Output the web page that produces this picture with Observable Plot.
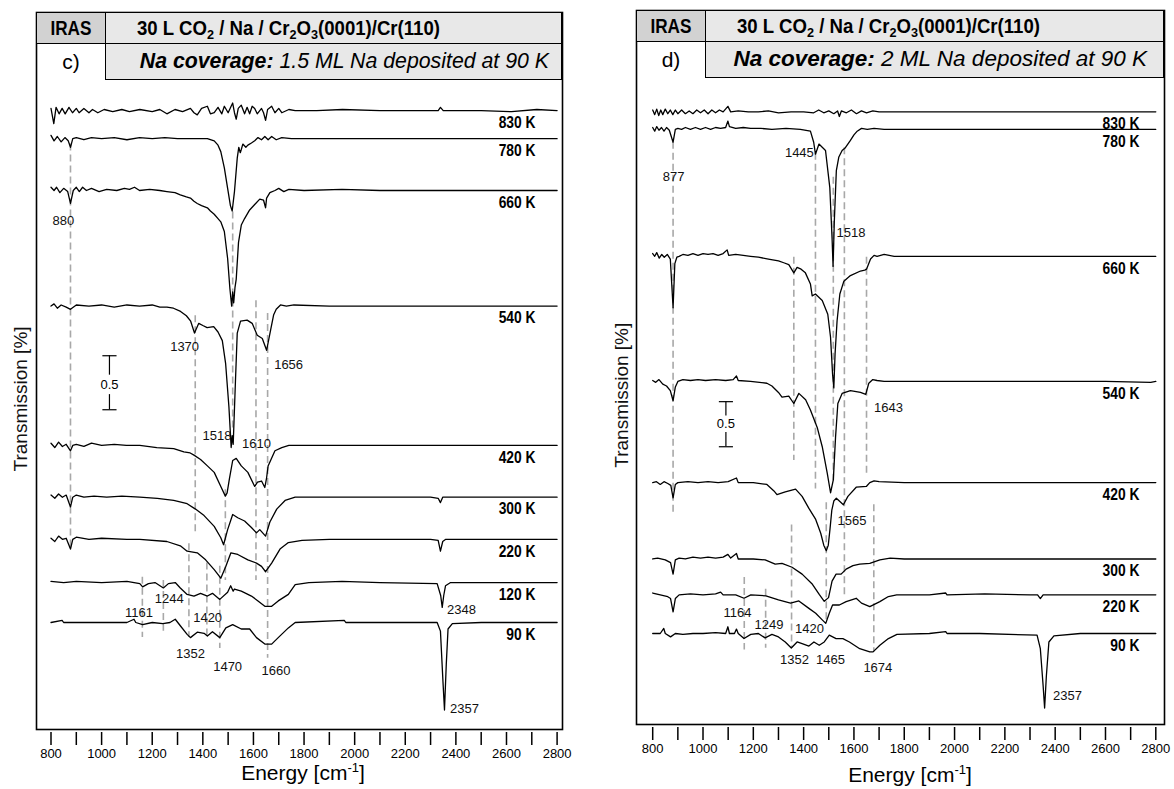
<!DOCTYPE html>
<html><head><meta charset="utf-8">
<script src="https://cdn.jsdelivr.net/npm/d3@7"></script>
<script src="https://cdn.jsdelivr.net/npm/@observablehq/plot@0.6"></script>
<style>
body{margin:0;background:#fff;}
#root{position:relative;width:1174px;height:789px;overflow:hidden;font-family:"Liberation Sans",Arial,sans-serif;}
#root svg{position:absolute;top:0;}
.cell{position:absolute;box-sizing:border-box;border:1.5px solid #000;display:flex;align-items:center;overflow:visible;}
.bold{font-family:"Liberation Sans",Arial,sans-serif;font-weight:bold;}
.fit{display:inline-block;white-space:nowrap;}
.sb{font-size:68%;position:relative;top:0.3em;}
.lbl{position:absolute;white-space:nowrap;color:#000;}
</style></head>
<body><div id="root"></div>
<script>
// ---------------- data: panel c (1.5 ML Na) ----------------
const tempsC = ["830 K","780 K","660 K","540 K","420 K","300 K","220 K","120 K","90 K"];
const offsetsC = [4.74, 4.48, 4.0, 2.93, 1.64, 1.16, 0.77, 0.37, 0];
const c830 = [[800,0.02],[811,-0.12],[820,0.03],[832,-0.03],[844,0.02],[856,-0.03],[871,0.03],[885,-0.02],[900,0.02],[911,-0.02],[930,0.02],[950,-0.02],[964,0.01],[985,-0.02],[1010,0.01],[1044,-0.01],[1080,0.01],[1110,-0.01],[1151,0.01],[1200,-0.01],[1230,0.01],[1258,-0.03],[1290,0.01],[1320,-0.01],[1351,0.02],[1365,-0.02],[1378,-0.04],[1395,0.02],[1418,0.04],[1430,-0.03],[1445,-0.02],[1460,0.03],[1475,-0.03],[1485,0.04],[1500,-0.02],[1510,0.03],[1518,0.07],[1525,-0.02],[1532,-0.08],[1540,0.02],[1552,0.05],[1565,-0.03],[1575,0.03],[1585,-0.03],[1595,0.04],[1605,0.02],[1615,-0.03],[1632,0.02],[1640,-0.02],[1648,-0.09],[1656,0.01],[1672,0.04],[1685,-0.02],[1700,0.02],[1712,-0.02],[1740,0.01],[1765,0],[1850,0],[1952,0.01],[2100,0],[2219,0],[2330,0],[2339,0.03],[2350,0],[2500,0],[2620,-0.01],[2720,0.01],[2800,0]];
const c780 = [[800,0.03],[812,-0.02],[825,0.02],[840,-0.03],[855,0.01],[868,-0.02],[877,-0.08],[886,0],[900,0.01],[930,-0.01],[960,0.01],[1000,0],[1050,0.01],[1100,-0.01],[1150,0.01],[1200,0],[1250,0.01],[1300,0],[1350,0],[1418,0],[1445,-0.02],[1460,-0.06],[1471,-0.12],[1485,-0.27],[1498,-0.46],[1509,-0.62],[1516,-0.67],[1525,-0.49],[1536,-0.18],[1542,-0.08],[1548,-0.13],[1552,-0.10],[1558,-0.05],[1570,-0.08],[1578,-0.06],[1592,-0.04],[1605,-0.02],[1618,0.01],[1632,-0.01],[1645,0.02],[1658,-0.01],[1672,0.02],[1690,-0.01],[1712,0.01],[1750,0],[1900,0],[2100,0],[2300,0],[2500,0],[2800,0]];
const c660 = [[800,0.03],[812,0],[822,0.03],[835,-0.02],[850,0.02],[866,-0.01],[877,-0.12],[888,0],[900,0.03],[912,-0.01],[925,0.03],[940,0],[960,0.02],[990,-0.01],[1020,0.01],[1060,0],[1090,0.02],[1110,0.01],[1130,0.03],[1150,0],[1190,0.01],[1230,0],[1258,-0.01],[1290,-0.02],[1311,-0.04],[1335,-0.06],[1351,-0.07],[1365,-0.10],[1378,-0.12],[1395,-0.14],[1418,-0.16],[1430,-0.19],[1445,-0.22],[1460,-0.26],[1471,-0.29],[1485,-0.38],[1498,-0.63],[1507,-0.91],[1514,-1.07],[1518,-0.94],[1522,-1.04],[1527,-0.90],[1532,-0.82],[1541,-0.48],[1552,-0.32],[1565,-0.26],[1585,-0.18],[1605,-0.13],[1625,-0.08],[1640,-0.09],[1648,-0.16],[1652,-0.07],[1665,-0.02],[1685,0],[1700,0.02],[1720,-0.01],[1740,0.01],[1800,0],[1950,0.01],[2100,0],[2300,0],[2500,0],[2800,0]];
const c540 = [[800,0],[812,0.02],[825,-0.02],[840,0.01],[860,-0.01],[877,-0.03],[900,0.01],[950,0],[1000,0.01],[1050,-0.01],[1100,0.01],[1150,0],[1200,0.01],[1230,-0.01],[1258,-0.01],[1284,-0.02],[1312,-0.05],[1335,-0.09],[1352,-0.14],[1367,-0.25],[1384,-0.16],[1400,-0.18],[1417,-0.20],[1443,-0.19],[1460,-0.24],[1477,-0.32],[1490,-0.53],[1503,-0.93],[1512,-1.31],[1516,-1.20],[1520,-1.28],[1529,-0.69],[1536,-0.25],[1549,-0.14],[1575,-0.13],[1595,-0.16],[1615,-0.27],[1635,-0.30],[1652,-0.41],[1668,-0.22],[1680,-0.08],[1690,-0.03],[1707,0.01],[1730,0],[1760,0.01],[1900,0],[2100,0],[2300,0],[2500,0],[2800,0]];
const c420 = [[800,0.02],[815,-0.02],[830,0.03],[845,-0.01],[860,0.01],[877,-0.05],[886,0],[900,0.01],[930,-0.01],[960,0.02],[1000,0],[1050,0.01],[1098,0],[1151,0],[1218,-0.02],[1285,-0.03],[1325,-0.06],[1350,-0.07],[1365,-0.09],[1391,-0.13],[1418,-0.19],[1445,-0.25],[1471,-0.38],[1489,-0.47],[1496,-0.44],[1505,-0.31],[1518,-0.14],[1532,-0.12],[1552,-0.19],[1578,-0.25],[1605,-0.38],[1616,-0.34],[1632,-0.33],[1645,-0.39],[1652,-0.30],[1658,-0.19],[1685,-0.05],[1712,-0.02],[1740,0],[1850,0],[2000,0],[2200,0],[2400,0],[2800,0]];
const c300 = [[800,0.02],[815,-0.01],[830,0.03],[845,0],[860,0.02],[877,-0.09],[886,0],[900,0.02],[930,0],[970,0.01],[1020,0],[1080,0.01],[1151,0],[1220,-0.01],[1285,-0.03],[1338,-0.06],[1371,-0.11],[1405,-0.17],[1445,-0.27],[1471,-0.375],[1482,-0.44],[1498,-0.30],[1518,-0.16],[1538,-0.19],[1565,-0.22],[1592,-0.28],[1612,-0.33],[1625,-0.30],[1648,-0.36],[1665,-0.23],[1692,-0.11],[1725,-0.03],[1765,0],[1900,0],[2100,0],[2300,0],[2330,-0.01],[2339,-0.05],[2348,0],[2500,0],[2800,0]];
const c220 = [[800,0.01],[815,-0.02],[830,0.03],[845,0],[860,0.01],[877,-0.09],[886,0],[900,0.02],[950,0],[1000,0.01],[1100,0],[1151,0],[1258,-0.02],[1311,-0.06],[1338,-0.11],[1378,-0.125],[1411,-0.19],[1445,-0.28],[1471,-0.36],[1491,-0.25],[1511,-0.125],[1538,-0.14],[1578,-0.19],[1612,-0.22],[1632,-0.25],[1648,-0.30],[1672,-0.22],[1705,-0.09],[1738,-0.03],[1792,-0.01],[1900,0],[2100,0],[2300,0],[2330,-0.01],[2339,-0.11],[2348,-0.02],[2360,0],[2500,0],[2800,0]];
const c120 = [[800,0.01],[850,0],[900,0.01],[1000,0],[1100,0.01],[1151,-0.01],[1162,-0.04],[1185,-0.01],[1211,0],[1244,-0.05],[1264,-0.01],[1291,0],[1311,-0.05],[1338,-0.11],[1365,-0.125],[1391,-0.10],[1418,-0.125],[1438,-0.10],[1467,-0.156],[1498,-0.09],[1510,-0.03],[1520,-0.08],[1525,-0.06],[1552,-0.08],[1592,-0.125],[1618,-0.17],[1645,-0.22],[1672,-0.22],[1698,-0.17],[1738,-0.11],[1765,-0.02],[1819,0],[1950,0.01],[2100,0],[2326,-0.01],[2340,-0.12],[2346,-0.23],[2352,-0.12],[2359,-0.03],[2379,0],[2500,0],[2800,0]];
const c90 = [[800,0],[844,0.02],[850,0],[900,0],[1000,0],[1100,0],[1128,0.03],[1135,0],[1162,-0.02],[1200,0],[1242,-0.01],[1270,0],[1291,0.03],[1311,-0.03],[1338,-0.11],[1351,-0.14],[1378,-0.09],[1405,-0.10],[1418,-0.125],[1438,-0.085],[1467,-0.14],[1491,-0.05],[1518,-0.02],[1552,-0.06],[1585,-0.06],[1612,-0.14],[1645,-0.20],[1672,-0.20],[1698,-0.14],[1738,-0.05],[1765,0],[1959,0.02],[1965,0],[2100,0],[2326,0],[2339,-0.08],[2349,-0.55],[2355,-0.81],[2362,-0.39],[2369,-0.06],[2386,-0.01],[2500,0],[2800,0]];
const spectraC = [c830, c780, c660, c540, c420, c300, c220, c120, c90];
const peakLabelsC = [["880",849,3.72],["1370",1328,2.55],["1656",1739,2.39],["1518",1456,1.73],["1610",1612,1.65],["1161",1148,0.093],["1244",1267,0.218],["1420",1419,0.046],["1352",1351,-0.287],["1470",1498,-0.407],["1660",1689,-0.444],["2348",2422,0.12],["2357",2434,-0.796]];
const dashesC = [[877,4.43,0.67],[1518,3.80,1.80],[1370,2.84,0.82],[1610,2.98,0.39],[1656,2.86,-0.33],[1489,1.23,0.39],[1345,0.73,-0.14],[1416,0.55,-0.14],[1467,0.52,-0.24],[1161,0.42,-0.14],[1244,0.39,-0.08]];
const scaleBarC = [1031, 2.47, 1.97];

// ---------------- data: panel d (2 ML Na) ----------------
const tempsD = ["830 K","780 K","660 K","540 K","420 K","300 K","220 K","90 K"];
const offsetsD = [5.67, 5.48, 4.10, 2.74, 1.64, 0.81, 0.42, 0];
const d830 = [[800,0.02],[808,-0.03],[816,0.03],[824,-0.04],[832,0.02],[840,-0.03],[850,0.03],[860,-0.02],[870,0.02],[880,-0.03],[890,0.02],[900,-0.02],[915,0.02],[930,-0.02],[945,0.01],[960,-0.02],[975,0.02],[990,-0.01],[1005,0.02],[1020,-0.02],[1035,0.02],[1050,-0.01],[1065,0.02],[1080,0],[1099,0.06],[1110,0],[1140,0.01],[1180,0],[1220,0],[1260,0.01],[1300,-0.01],[1350,0],[1400,0],[1440,-0.01],[1460,0.02],[1480,-0.01],[1500,0.01],[1520,-0.02],[1535,0.01],[1542,-0.05],[1550,0.01],[1570,-0.01],[1590,0.02],[1610,-0.02],[1630,0.01],[1650,-0.01],[1675,0.01],[1700,0],[1800,0],[1950,0],[2100,0],[2300,0],[2500,0],[2800,0]];
const d780 = [[800,0.02],[808,-0.02],[816,0.03],[825,-0.01],[835,0.02],[845,-0.02],[855,0.02],[866,-0.01],[881,-0.14],[890,0],[900,0.01],[915,0],[930,0.02],[950,0],[970,0.02],[990,0],[1010,0.02],[1030,0],[1050,0.02],[1070,0.01],[1090,0.02],[1099,0.09],[1105,0.03],[1130,0.01],[1160,0.02],[1189,0.01],[1230,0.01],[1274,0],[1330,0.01],[1387,0],[1427,-0.02],[1440,-0.14],[1447,-0.27],[1461,-0.16],[1487,-0.23],[1504,-0.63],[1513,-1.18],[1517,-1.49],[1522,-1.0],[1530,-0.45],[1540,-0.30],[1553,-0.23],[1566,-0.20],[1586,-0.12],[1600,-0.06],[1613,-0.02],[1630,0.01],[1653,0],[1680,0.01],[1720,0],[1850,0],[2000,0],[2200,0],[2400,0],[2600,0],[2800,0]];
const d660 = [[800,0.03],[808,0],[816,0.04],[826,-0.02],[836,0.02],[846,-0.01],[858,0.02],[870,-0.03],[881,-0.56],[888,-0.08],[896,-0.01],[905,0],[920,0.02],[940,0.01],[960,0.03],[980,0.01],[1000,0.03],[1020,0.02],[1040,0.03],[1060,0.01],[1080,0.03],[1096,0.07],[1102,0.01],[1130,0.02],[1160,0.01],[1189,0],[1220,-0.01],[1260,-0.03],[1300,-0.05],[1321,-0.07],[1341,-0.09],[1361,-0.18],[1374,-0.12],[1390,-0.14],[1407,-0.18],[1427,-0.30],[1434,-0.43],[1447,-0.41],[1474,-0.48],[1496,-0.63],[1507,-0.88],[1515,-1.28],[1520,-1.43],[1525,-1.06],[1533,-0.70],[1544,-0.41],[1560,-0.27],[1586,-0.21],[1626,-0.16],[1643,-0.15],[1650,-0.14],[1666,-0.03],[1680,0.01],[1692,0],[1720,0.02],[1760,0],[1900,0],[2100,0],[2300,0],[2500,0],[2800,0]];
const d540 = [[800,0.01],[812,-0.01],[825,0.02],[840,-0.03],[855,-0.05],[870,-0.1],[881,-0.21],[890,-0.06],[900,0],[920,0.02],[950,0.01],[980,0.02],[1010,0.01],[1050,0.02],[1090,0.01],[1120,0.02],[1133,0.06],[1140,0.01],[1189,0],[1254,-0.02],[1274,-0.05],[1300,-0.12],[1314,-0.17],[1341,-0.16],[1361,-0.24],[1381,-0.13],[1408,-0.20],[1427,-0.31],[1454,-0.50],[1474,-0.71],[1494,-1.0],[1507,-1.21],[1518,-1.07],[1527,-0.60],[1536,-0.24],[1553,-0.13],[1586,-0.10],[1626,-0.12],[1647,-0.14],[1659,-0.02],[1675,0.02],[1692,0.01],[1720,0],[1800,0],[2000,0],[2200,0],[2400,0],[2600,0],[2780,-0.01],[2800,0]];
const d420 = [[800,0],[815,0.01],[830,-0.02],[845,0.01],[860,-0.01],[872,-0.03],[881,-0.165],[890,-0.02],[900,0],[940,0.01],[980,0],[1020,0.01],[1060,0],[1100,0.01],[1133,0.05],[1140,0],[1200,0],[1254,-0.02],[1282,-0.09],[1294,-0.13],[1327,-0.10],[1368,-0.07],[1394,-0.15],[1421,-0.28],[1448,-0.40],[1468,-0.55],[1480,-0.68],[1490,-0.74],[1498,-0.68],[1505,-0.50],[1512,-0.30],[1520,-0.20],[1530,-0.17],[1542,-0.20],[1558,-0.24],[1576,-0.15],[1609,-0.05],[1650,-0.04],[1663,0],[1680,0.02],[1700,0.01],[1800,0],[2000,0],[2200,0],[2400,0],[2800,0]];
const d300 = [[800,0],[820,0.01],[850,-0.01],[871,-0.04],[881,-0.165],[890,-0.01],[905,0.01],[930,0],[960,0.02],[990,0.01],[1020,0.02],[1050,0.01],[1080,0.02],[1099,0.05],[1110,0.01],[1133,0.06],[1140,0],[1166,0],[1200,0],[1247,-0.01],[1287,-0.055],[1314,-0.048],[1354,-0.09],[1394,-0.165],[1435,-0.275],[1462,-0.385],[1482,-0.46],[1499,-0.42],[1513,-0.24],[1529,-0.165],[1549,-0.165],[1569,-0.11],[1596,-0.073],[1623,-0.055],[1663,-0.048],[1703,-0.01],[1744,0.01],[1800,0],[2000,0],[2200,0],[2400,0],[2800,0]];
const d220 = [[800,0.02],[830,0],[860,-0.02],[871,-0.04],[881,-0.184],[890,-0.04],[905,0],[950,0.01],[1000,0],[1050,0.01],[1070,0.03],[1080,0],[1130,0],[1163,-0.037],[1190,0],[1250,-0.01],[1300,-0.055],[1348,-0.09],[1381,-0.066],[1421,-0.147],[1448,-0.20],[1475,-0.275],[1488,-0.31],[1502,-0.20],[1515,-0.11],[1542,-0.11],[1569,-0.073],[1609,-0.037],[1630,-0.09],[1663,-0.128],[1703,-0.073],[1737,-0.018],[1770,0],[1900,0],[1965,0.02],[1970,0],[2120,0.01],[2300,0],[2330,0],[2341,-0.04],[2352,0],[2500,0],[2800,0]];
const d90 = [[800,0],[830,0],[844,0.055],[850,0],[871,-0.037],[890,0],[920,-0.01],[960,0],[1000,0],[1050,0.01],[1090,0],[1099,0.073],[1105,0],[1125,0],[1133,0.048],[1140,0],[1163,-0.055],[1190,-0.01],[1220,0],[1247,-0.048],[1274,-0.01],[1300,-0.037],[1327,-0.092],[1351,-0.158],[1374,-0.092],[1394,-0.11],[1421,-0.136],[1441,-0.092],[1462,-0.128],[1482,-0.092],[1502,-0.018],[1529,-0.055],[1556,-0.055],[1582,-0.092],[1623,-0.165],[1663,-0.20],[1676,-0.20],[1703,-0.128],[1737,-0.055],[1771,-0.01],[1900,0],[1965,0.02],[1970,0],[2100,0],[2328,-0.018],[2341,-0.165],[2352,-0.565],[2358,-0.81],[2365,-0.459],[2375,-0.092],[2395,-0.026],[2500,0],[2800,0]];
const spectraD = [d830, d780, d660, d540, d420, d300, d220, d90];
const peakLabelsD = [["877",883,4.96],["1445",1383,5.22],["1518",1588,4.36],["1643",1737,2.45],["1565",1592,1.22],["1164",1137,0.22],["1249",1262,0.09],["1420",1423,0.05],["1352",1364,-0.29],["1465",1507,-0.29],["1674",1695,-0.37],["2357",2449,-0.68]];
const dashesD = [[881,5.34,1.29],[1361,4.09,1.88],[1447,5.22,1.57],[1518,4.96,1.66],[1562,5.28,0.39],[1650,4.09,1.72],[1490,1.42,0.13],[1352,1.18,-0.16],[1679,1.40,-0.20],[1164,0.61,-0.18],[1249,0.48,-0.16]];
const scaleBarD = [1091, 2.52, 2.03];

const xTicks = d3.range(800, 2801, 100);

// ---------------- drawing ----------------
const root = document.getElementById("root");

function squeeze(svg, s) {
  svg.querySelectorAll("text").forEach(el => {
    if (!/ K$/.test(el.textContent)) return;
    const t = el.getAttribute("transform") || "";
    let x = parseFloat(el.getAttribute("x"));
    if (!isFinite(x)) x = 0;
    el.setAttribute("transform", `${t} translate(${x},0) scale(${s},1) translate(${-x},0)`);
  });
}
function fitWidth(span, target, origin) {
  const w = span.getBoundingClientRect().width;
  span.style.transformOrigin = origin;
  span.style.transform = `scaleX(${target / w})`;
}

function drawPanel(cfg) {
  const rows = [];
  cfg.spectra.forEach((pts, i) => pts.forEach(([e, d]) => rows.push({T: cfg.temps[i], e, v: d + cfg.offsets[i]})));
  const tLabels = cfg.temps.map((t, i) => ({t, v: cfg.offsets[i] - cfg.labelDrop}));
  const peaks = cfg.peaks.map(([t, e, v]) => ({t, e, v}));
  const dashes = cfg.dashes.map(([e, v1, v2]) => ({e, v1, v2}));
  const [be, bt, bb] = cfg.bar;
  const mid = (bt + bb) / 2 + cfg.barShift;
  const barSegs = [{e: be, v1: bt, v2: mid + 0.09}, {e: be, v1: mid - 0.09, v2: bb}];
  const caps = [{e: be, v: bt}, {e: be, v: bb}];
  const svg = Plot.plot({
    width: 600, height: 789,
    marginLeft: 36, marginRight: cfg.mr, marginTop: cfg.top, marginBottom: 789 - cfg.bottom,
    x: {domain: [800, 2800], insetLeft: cfg.il, insetRight: cfg.ir},
    y: {domain: cfg.ydomain, axis: null},
    style: {fontFamily: '"Liberation Sans", Arial, sans-serif', background: "transparent", overflow: "visible"},
    marks: [
      Plot.frame({stroke: "#000", strokeWidth: 1.6}),
      Plot.ruleX(dashes, {x: "e", y1: "v1", y2: "v2", stroke: "#a8a8a8", strokeWidth: 1.6, strokeDasharray: "7,4"}),
      Plot.line(rows, {x: "e", y: "v", z: "T", stroke: "#000", strokeWidth: 1.3, strokeLinejoin: "round"}),
      Plot.text(tLabels, {x: () => cfg.labelE, y: "v", text: "t", textAnchor: "end", fontSize: 16.5, fontWeight: "bold", fill: "#000"}),
      Plot.text(peaks, {x: "e", y: "v", text: "t", fontSize: 13, fill: "#111"}),
      Plot.ruleX(barSegs, {x: "e", y1: "v1", y2: "v2", stroke: "#000", strokeWidth: 1.2}),
      Plot.link(caps, {x1: d => d.e - 28, x2: d => d.e + 28, y1: "v", y2: "v", stroke: "#000", strokeWidth: 1.2}),
      Plot.text([{e: be, v: mid}], {x: "e", y: "v", text: () => "0.5", fontSize: 13}),
      Plot.text([cfg.ylab], {x: d => d[0], y: d => d[1], text: () => "Transmission [%]", rotate: -90, fontSize: 19, fill: "#111"}),
      Plot.axisX(xTicks, {tickSize: 13, tickPadding: 3, tickFormat: d => d % 200 === 0 ? String(d) : "", fontSize: 13, strokeWidth: 1.5, label: null, dy: 3})
    ]
  });
  svg.style.left = cfg.x + "px";
  root.appendChild(svg);
  squeeze(svg, 0.84);

  // header (HTML overlay)
  const x0 = cfg.x + 36, x1 = cfg.x + 600 - cfg.mr, top = cfg.top, irW = 70, h1 = 32, h2 = 37;
  const mk = (cls, l, t, w, h, bg, html, extra) => {
    const d = document.createElement("div");
    d.className = cls;
    Object.assign(d.style, {left: l + "px", top: t + "px", width: w + "px", height: h + "px", background: bg}, extra || {});
    d.innerHTML = html;
    root.appendChild(d);
    return d;
  };
  const c1 = mk("cell bold", x0, top, irW, h1, "#d2d2d2", '<span class="fit">IRAS</span>', {justifyContent: "center", fontSize: "20px"});
  fitWidth(c1.firstChild, 41, "center center");
  const c2 = mk("cell bold", x0 + irW - 1.5, top, x1 - x0 - irW + 1.5, h1, "#e8e8e8",
     '<span class="fit">30 L CO<span class="sb">2</span> / Na / Cr<span class="sb">2</span>O<span class="sb">3</span>(0001)/Cr(110)</span>',
     {paddingLeft: "31px", fontSize: "20px"});
  fitWidth(c2.firstChild, 303, "left center");
  mk("cell", x0 + irW - 1.5, top + h1 - 1.5, x1 - x0 - irW + 1.5, h2, "#e8e8e8",
     '<span class="fit"><i><b>Na coverage:</b> ' + cfg.coverage + '</i></span>',
     {justifyContent: "flex-end", paddingRight: cfg.covPad + "px", fontSize: cfg.covFont + "px"});
  mk("lbl", x0, top + h1, irW, h2 - 1.5, "transparent", cfg.letter,
     {display: "flex", alignItems: "center", justifyContent: "center", fontSize: "21px"});
  // x-axis title
  mk("lbl", cfg.x + cfg.energyX - 120, cfg.energyY - 12, 240, 24, "transparent",
     'Energy [cm<sup style="font-size:62%;line-height:0">-1</sup>]',
     {textAlign: "center", fontSize: "21px", lineHeight: "24px"});
}

drawPanel({x: 0, mr: 38, top: 12, bottom: 729, il: 14.5, ir: 5.4,
  ydomain: [(622 - 729) / 108, (622 - 12) / 108],
  temps: tempsC, offsets: offsetsC, spectra: spectraC, peaks: peakLabelsC, dashes: dashesC,
  bar: scaleBarC, barShift: -0.02, labelE: 2715, labelDrop: 0.11,
  ylab: [683, 2.07], letter: "c)", coverage: "1.5 ML Na deposited at 90 K", covPad: 12, covFont: 21.3,
  energyX: 303, energyY: 773});
drawPanel({x: 600, mr: 36, top: 10, bottom: 724, il: 16.2, ir: 8.7,
  ydomain: [(633 - 724) / 92, (633 - 10) / 92],
  temps: tempsD, offsets: offsetsD, spectra: spectraD, peaks: peakLabelsD, dashes: dashesD,
  bar: scaleBarD, barShift: 0.0, labelE: 2735, labelDrop: 0.13,
  ylab: [676, 2.59], letter: "d)", coverage: "2 ML Na deposited at 90 K", covPad: 16, covFont: 22.5,
  energyX: 310, energyY: 775});
</script>
</body></html>
